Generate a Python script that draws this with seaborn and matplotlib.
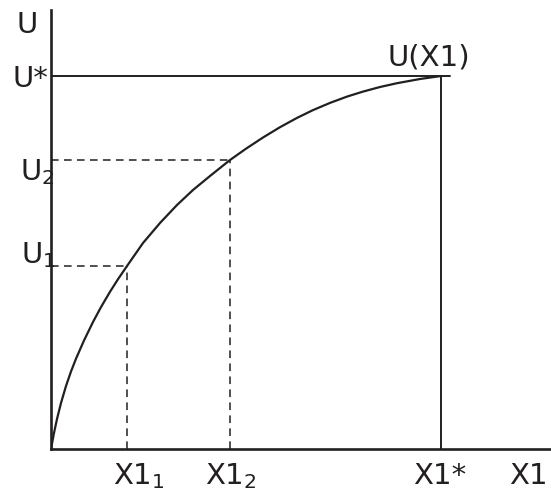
import matplotlib
matplotlib.use("Agg")
import matplotlib.pyplot as plt
import seaborn as sns
import pandas as pd

# ---- data ----
curve_x = [0, 3, 6, 10, 15, 20, 25, 33, 42, 50, 59, 67, 76, 92, 109, 126, 142, 159,
           179, 195, 212, 229, 246, 262, 279, 296, 312, 329, 346, 369, 390]
curve_u = [0, 16, 30, 46, 63, 77.5, 90.3, 108.5, 127, 141.9, 157.2, 169.8, 183, 206, 226, 244, 259, 273,
           289, 300.3, 311.5, 321.8, 331.1, 338.9, 346.1, 352.4, 357.4, 362.0, 365.8, 370.0, 373]
x_marks = [76, 179]          # X1_1, X1_2
u_marks = [183, 289]         # U_1, U_2
x_star = 390                 # X1*
u_star = 373                 # U*
x_labels = [r"X1$_1$", r"X1$_2$", "X1*", "X1"]
u_labels = ["U", "U*", r"U$_2$", r"U$_1$"]
curve_label = "U(X1)"

sns.set_style("white")
plt.rcParams["font.family"] = ["DejaVu Sans"]
plt.rcParams["mathtext.fontset"] = "dejavusans"

INK = "#231f20"
FS = 21

fig = plt.figure(figsize=(5.51, 4.94), dpi=100)
ax = fig.add_axes([51 / 551, 45 / 494, 500 / 551, 439 / 494])
ax.set_xlim(0, 500)
ax.set_ylim(0, 439)

df = pd.DataFrame({"x": curve_x, "u": curve_u})
sns.lineplot(data=df, x="x", y="u", ax=ax, color=INK, lw=1.6,
             estimator=None, sort=False, solid_capstyle="round",
             solid_joinstyle="round")

# dashed guides for U1/U2
dash = (0, (5, 3.5))
for xm, um in zip(x_marks, u_marks):
    ax.plot([0, xm], [um, um], color=INK, lw=1.1, ls=dash)
    ax.plot([xm, xm], [0, um], color=INK, lw=1.1, ls=dash)

# solid guides for U*/X1*
ax.plot([0, x_star + 9], [u_star, u_star], color=INK, lw=1.4)
ax.plot([x_star, x_star], [0, u_star], color=INK, lw=1.4)

# axes
for s in ["top", "right"]:
    ax.spines[s].set_visible(False)
for s in ["left", "bottom"]:
    ax.spines[s].set_color(INK)
    ax.spines[s].set_linewidth(1.9)
ax.set_xticks([])
ax.set_yticks([])
ax.set_xlabel("")
ax.set_ylabel("")

tk = dict(color=INK, fontsize=FS, va="baseline")
# y-side labels
ax.text(-24, 416, u_labels[0], ha="center", **tk)
ax.text(-3, 362, u_labels[1], ha="right", **tk)
ax.text(-31, 269, u_labels[2], ha="left", **tk)
ax.text(-30, 186, u_labels[3], ha="left", **tk)
# x-side labels
ax.text(62, -35, x_labels[0], ha="left", **tk)
ax.text(154, -35, x_labels[1], ha="left", **tk)
ax.text(362, -35, x_labels[2], ha="left", **tk)
ax.text(497, -35, x_labels[3], ha="right", **tk)
# curve label
ax.text(337, 384, curve_label, ha="left", **tk)

fig.savefig("out.png", dpi=100)
